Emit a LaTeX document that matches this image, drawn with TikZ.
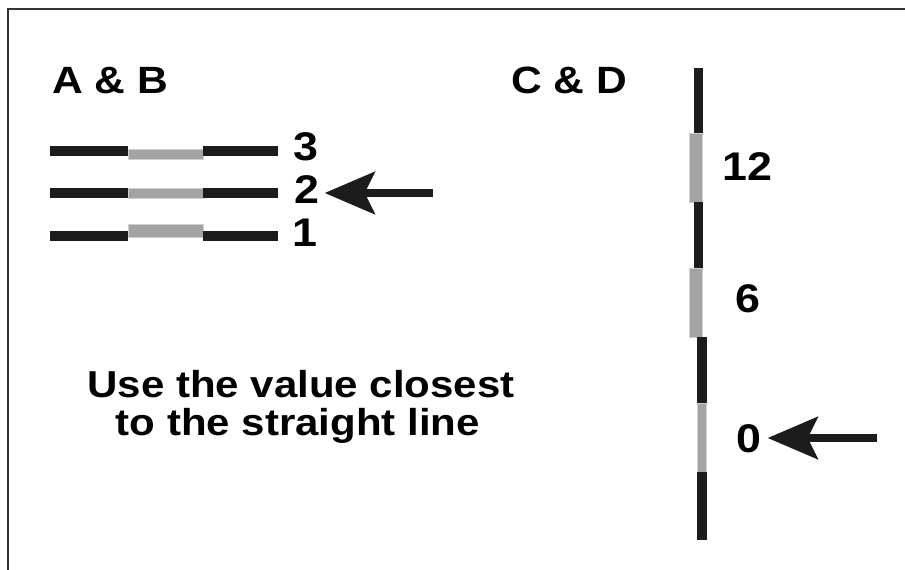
\documentclass[tikz,border=0pt]{standalone}
\usepackage{fontspec}
\setmainfont{Liberation Sans}
\newfontfamily\labfont{Liberation Sans}[FakeStretch=1.12]
\usetikzlibrary{arrows.meta}
\definecolor{barblack}{HTML}{1C1C1C}
\definecolor{bargray}{HTML}{A3A3A3}
\definecolor{baredge}{HTML}{CFCFCF}
\definecolor{framecol}{HTML}{333333}
\tikzset{
  blackbar/.style={fill=barblack},
  graybar/.style={fill=bargray, draw=baredge, line width=0.8pt},
  head/.style={font=\labfont\bfseries\fontsize{38}{42}\selectfont, inner sep=0pt, anchor=base west},
  note/.style={font=\labfont\bfseries\fontsize{37.5}{40}\selectfont, inner sep=0pt, anchor=base},
  digit/.style={font=\labfont\bfseries\fontsize{40}{44}\selectfont, inner sep=0pt},
  pointer/.style={line width=8pt, draw=barblack, -{Stealth[length=50pt, width=42pt, inset=10pt]}},
  frameline/.style={draw=framecol, line width=2.5pt}
}
\begin{document}
\begin{tikzpicture}[x=1pt, y=-1pt]
\useasboundingbox (0,0) rectangle (905,570);
% frame
\coordinate (ftl) at (8,9);
\coordinate (ftr) at (905,9);
\coordinate (fbl) at (8,570);
\draw[frameline] (ftr) -- (ftl) -- (fbl);
% headings
\node[head] (ab) at (52,93) {A \& B};
\node[head] (cd) at (511,93) {C \& D};
% horizontal lines
\fill[blackbar] (50,146) rectangle (128,156);
\fill[graybar]  (128,149) rectangle (203,159);
\fill[blackbar] (203,146) rectangle (278,156);
\fill[blackbar] (50,188) rectangle (128,198);
\fill[graybar]  (128,188) rectangle (203,198);
\fill[blackbar] (203,188) rectangle (278,198);
\fill[blackbar] (50,231) rectangle (128,241);
\fill[graybar]  (128,224) rectangle (203,237);
\fill[blackbar] (203,231) rectangle (278,241);
% labels for horizontal lines
\node[digit] (l3) at (306,147) {3};
\node[digit] (l2) at (307,190) {2};
\node[digit] (l1) at (305,233) {1};
% arrow to 2
\coordinate (a2) at (433,193);
\draw[pointer, shorten >=5pt] (a2) -- (l2.east |- a2);
% vertical line
\fill[blackbar] (694,68) rectangle (703,133);
\fill[graybar]  (689,133) rectangle (702,202);
\fill[blackbar] (694,202) rectangle (703,268);
\fill[graybar]  (689,268) rectangle (702,337);
\fill[blackbar] (697,337) rectangle (707,403);
\fill[graybar]  (697,403) rectangle (706,472);
\fill[blackbar] (697,472) rectangle (707,540);
% labels for vertical line
\node[digit] (v12) at (747,167) {12};
\node[digit] (v6) at (748,299) {6};
\node[digit] (v0) at (749,439) {0};
% arrow to 0
\coordinate (a0) at (877,438);
\draw[pointer, shorten >=6pt] (a0) -- (v0.east |- a0);
% note
\node[note] (n1) at (301,397) {Use the value closest};
\node[note] (n2) at (298,435) {to the straight line};
\end{tikzpicture}
\end{document}
